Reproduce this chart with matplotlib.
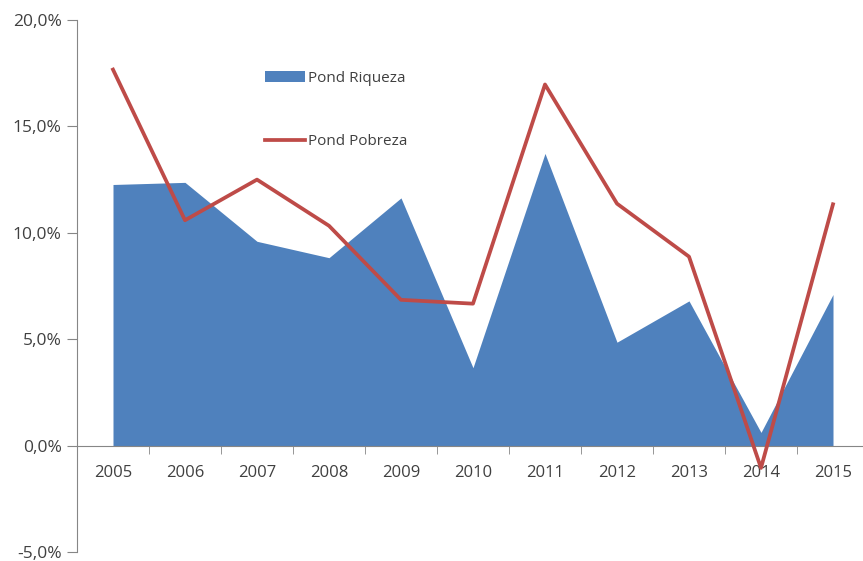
import matplotlib
matplotlib.use("Agg")
import matplotlib.pyplot as plt
from matplotlib.ticker import FuncFormatter, FixedLocator
from matplotlib.patches import Patch
from matplotlib.lines import Line2D

# datos
anios = ['2005', '2006', '2007', '2008', '2009', '2010', '2011', '2012', '2013', '2014', '2015']
riqueza = [12.27, 12.37, 9.6, 8.83, 11.64, 3.66, 13.73, 4.86, 6.8, 0.62, 7.1]
pobreza = [17.67, 10.59, 12.5, 10.33, 6.85, 6.67, 16.97, 11.37, 8.88, -1.05, 11.34]

plt.rcParams['font.family'] = ['Open Sans', 'DejaVu Sans']
gris = '#404040'

fig = plt.figure(figsize=(8.63, 5.61), dpi=100)
ax = fig.add_axes([77/863, 9/561, 792/863, 532/561])

x = list(range(len(anios)))
ax.fill_between(x, 0, riqueza, color='#4F81BD', linewidth=0, zorder=2)
ax.plot(x, pobreza, color='#BE4B48', linewidth=2.7, zorder=3)

ax.set_xlim(-0.5, 10.5)
ax.set_ylim(-5, 20)
ax.set_yticks([-5, 0, 5, 10, 15, 20])
ax.yaxis.set_major_formatter(FuncFormatter(lambda v, p: ('%.1f%%' % v).replace('.', ',')))

ax.set_xticks(x)
ax.set_xticklabels(anios)
ax.xaxis.set_minor_locator(FixedLocator([i + 0.5 for i in range(-1, 11)]))
ax.tick_params(axis='x', which='major', length=0, pad=14, labelsize=12, labelcolor=gris)
ax.tick_params(axis='x', which='minor', length=6, color='#868686', direction='out')
ax.tick_params(axis='y', length=7, color='#868686', labelsize=12.5, labelcolor=gris, pad=4)

for s in ['top', 'right']:
    ax.spines[s].set_visible(False)
ax.spines['bottom'].set_position(('data', 0))
ax.spines['bottom'].set_color('#868686')
ax.spines['left'].set_color('#868686')

handles = [Patch(facecolor='#4F81BD', label='Pond Riqueza'),
           Line2D([0], [0], color='#BE4B48', linewidth=2.7, label='Pond Pobreza')]
leg = ax.legend(handles=handles, loc='upper left', bbox_to_anchor=(0.22, 0.93),
                frameon=False, fontsize=11, labelspacing=3.15, handlelength=2.6,
                handleheight=0.75, handletextpad=0.2)
for t in leg.get_texts():
    t.set_color(gris)

fig.savefig('out.png', dpi=100)
